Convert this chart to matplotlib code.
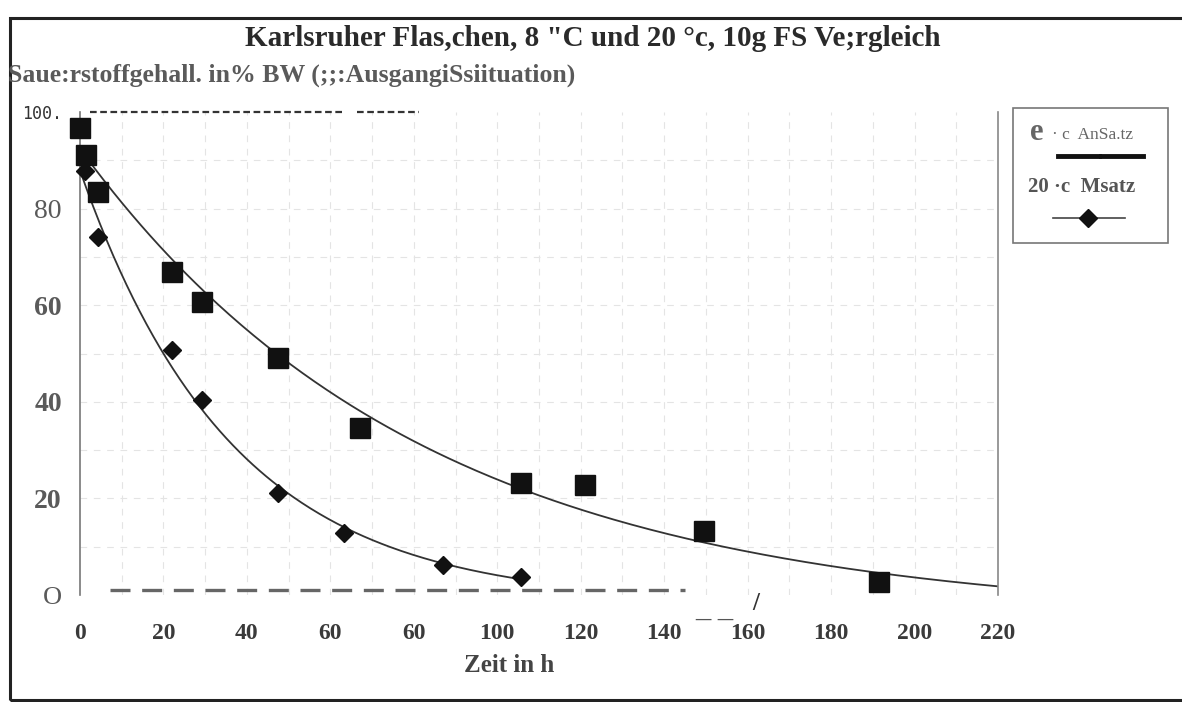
import numpy as np
import matplotlib.pyplot as plt
from matplotlib.lines import Line2D
from matplotlib.patches import Rectangle

# Data
t_8c = [0, 1.4, 4.3, 22, 29.2, 47.4, 67.2, 105.7, 121, 149.5, 191.4]
o2_8c = [96.7, 91.1, 83.5, 66.8, 60.6, 49.1, 34.6, 23.1, 22.7, 13.2, 2.7]

t_20c = [1.2, 4.3, 22, 29.2, 47.4, 63.2, 87, 105.7]
o2_20c = [87.8, 74.2, 50.7, 40.4, 21.2, 12.8, 6.2, 3.7]

x_ticks = [0, 20, 40, 60, 80, 100, 120, 140, 160, 180, 200, 220]
x_ticklabels = ['0', '20', '40', '60', '60', '100', '120', '140', '160', '180', '200', '220']
y_ticks = [0, 20, 40, 60, 80, 100]
y_ticklabels = ['O', '20', '40', '60', '80', '100.']

serif = 'Liberation Serif'


def exp_trend(t, y):
    # y = a*exp(-k t) - c, offset c picked by a simple scan
    t = np.asarray(t, float)
    y = np.asarray(y, float)
    best = None
    for c in np.arange(0, 15, 0.05):
        k, lna = np.polyfit(t, np.log(y + c), 1)
        err = np.sum((np.exp(lna + k * t) - c - y) ** 2)
        if best is None or err < best[0]:
            best = (err, k, lna, c)
    _, k, lna, c = best
    return lambda x: np.exp(lna + k * x) - c


fig = plt.figure(figsize=(11.82, 7.02), dpi=100)
W, H = 1182, 702

# page frame
fig.patches.append(Rectangle((10 / W, 0.003), 1.2, (H - 18) / H - 0.003,
                             transform=fig.transFigure, fill=False,
                             edgecolor='#222222', linewidth=2.2))

ax = fig.add_axes([80 / W, (H - 595) / H, 918 / W, 483 / H])
ax.set_xlim(0, 220)
ax.set_ylim(0, 100)

# faint grid
for gx in range(10, 220, 10):
    ax.axvline(gx, color='#e4e4e4', lw=0.8, ls=(0, (6, 6)), zorder=0)
for gy in range(10, 100, 10):
    ax.axhline(gy, color='#e4e4e4', lw=0.8, ls=(0, (6, 6)), zorder=0)

# trend curves (fitted to the points)
f8 = exp_trend(t_8c, o2_8c)
xs8 = np.linspace(1.4, 220, 300)
ax.plot(xs8, f8(xs8), color='#333333', lw=1.3, zorder=2)

f20 = exp_trend(t_20c, o2_20c)
xs20 = np.linspace(0, 105.7, 200)
ax.plot(xs20, f20(xs20), color='#333333', lw=1.3, zorder=2)

ax.plot(t_8c, o2_8c, ls='none', marker='s', ms=14, color='#111111', clip_on=False, zorder=3)
ax.plot(t_20c, o2_20c, ls='none', marker='D', ms=9.5, color='#111111', clip_on=False, zorder=3)

# scan artefacts: dashed lines at top and bottom
ax.plot([2.4, 63.6], [100, 100], color='#333333', lw=1.6, ls=(0, (3, 1.6)), clip_on=False)
ax.plot([66.5, 81.3], [100, 100], color='#333333', lw=1.6, ls=(0, (3, 1.6)), clip_on=False)
ax.plot([7.2, 145], [1.0, 1.0], color='#666666', lw=2.4, ls=(0, (6, 3.5)), clip_on=False)

for s in ['top', 'bottom']:
    ax.spines[s].set_visible(False)
ax.spines['left'].set_color('#777777')
ax.spines['right'].set_color('#888888')
ax.spines['left'].set_linewidth(1.2)
ax.spines['right'].set_linewidth(1.2)

ax.set_xticks(x_ticks)
ax.set_xticklabels(x_ticklabels)
ax.set_yticks(y_ticks)
ax.set_yticklabels(y_ticklabels)
ax.tick_params(axis='x', length=0, pad=20)
ax.tick_params(axis='y', length=0, pad=13)
for lab in ax.get_xticklabels():
    lab.set_fontfamily(serif)
    lab.set_fontweight('bold')
    lab.set_fontsize(17)
    lab.set_color('#3a3a3a')
for lab in ax.get_yticklabels():
    lab.set_fontfamily(serif)
    lab.set_fontsize(20)
    lab.set_color('#5a5a5a')
    if lab.get_text() in ('20', '40', '60'):
        lab.set_fontweight('bold')
    if lab.get_text() == '100.':
        lab.set_fontfamily('DejaVu Sans Mono')
        lab.set_fontsize(12)
        lab.set_color('#333333')
    if lab.get_text() == 'O':
        lab.set_fontsize(19)

ax.set_xlabel('Zeit in h', fontfamily=serif, fontweight='bold', fontsize=18,
              color='#444444')
ax.xaxis.set_label_coords(0.468, -0.145)
ax.xaxis.label.set_va('center')

fig.text(593 / W, 1 - 38 / H, 'Karlsruher Flas,chen, 8 "C und 20 °c, 10g FS Ve;rgleich',
         ha='center', va='center', fontfamily=serif, fontweight='bold',
         fontsize=21, color='#2a2a2a')
fig.text(8 / W, 1 - 75 / H, 'Saue:rstoffgehall. in% BW (;;:AusgangiSsiituation)',
         ha='left', va='center', fontfamily=serif, fontweight='bold',
         fontsize=18.5, color='#5a5a5a')
fig.text(695 / W, 1 - 608 / H, '_ _', ha='left', va='center',
         fontfamily=serif, fontsize=22, color='#555555')
fig.text(752 / W, 1 - 603 / H, '/', ha='left', va='center',
         fontfamily=serif, fontweight='bold', fontsize=18, color='#333333')

# legend box drawn by hand
fig.patches.append(Rectangle((1013 / W, 1 - 243 / H), 155 / W, 135 / H,
                             transform=fig.transFigure, fill=False,
                             edgecolor='#777777', linewidth=1.2))
fig.text(1030 / W, 1 - 133 / H, 'e', ha='left', va='center', fontfamily=serif,
         fontweight='bold', fontsize=22, color='#666666')
fig.text(1052 / W, 1 - 135 / H, '· c  AnSa.tz', ha='left', va='center',
         fontfamily=serif, fontsize=12.5, color='#666666')
fig.lines.append(Line2D([1058 / W, 1099 / W], [1 - 156 / H] * 2, transform=fig.transFigure,
                        color='#111111', lw=3.5))
fig.lines.append(Line2D([1101 / W, 1143 / W], [1 - 156 / H] * 2, transform=fig.transFigure,
                        color='#111111', lw=3.5))
fig.text(1028 / W, 1 - 187 / H, '20 ·c  Msatz', ha='left', va='center',
         fontfamily=serif, fontweight='bold', fontsize=15, color='#555555')
fig.lines.append(Line2D([1053 / W, 1125 / W], [1 - 218 / H] * 2, transform=fig.transFigure,
                        color='#444444', lw=1.2))
fig.lines.append(Line2D([1088 / W], [1 - 218 / H], transform=fig.transFigure,
                        marker='D', ms=9, color='#111111', ls='none'))

fig.savefig('out.png', dpi=100)
